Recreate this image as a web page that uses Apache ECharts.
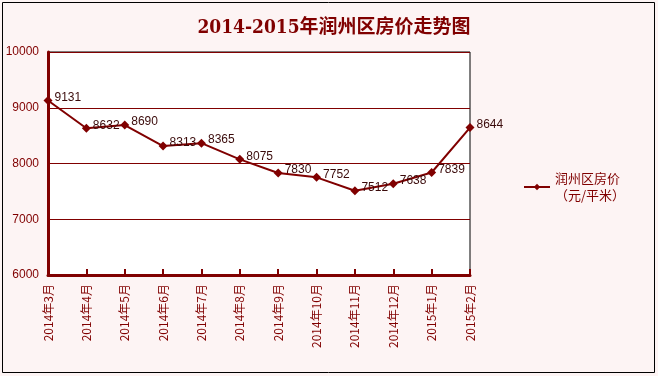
<!DOCTYPE html>
<html>
<head>
<meta charset="utf-8">
<script src="https://cdn.jsdelivr.net/npm/echarts@6/dist/echarts.min.js"></script>
<style>
  html, body { margin: 0; padding: 0; background: #fff; }
  #main { width: 658px; height: 376px; }
</style>
</head>
<body>
<div id="main"></div>
<script>
// 月份
const months = ["2014年3月", "2014年4月", "2014年5月", "2014年6月", "2014年7月", "2014年8月",
  "2014年9月", "2014年10月", "2014年11月", "2014年12月", "2015年1月", "2015年2月"];
// 均价 元/平米
const prices = [9131, 8632, 8690, 8313, 8365, 8075, 7830, 7752, 7512, 7638, 7839, 8644];
const yMin = 6000;
const yMax = 10000;
const yStep = 1000;

const red = "#800000";
let chart = echarts.init(document.getElementById("main"));
let option = {
  backgroundColor: "#fdf4f4",
  animation: false,
  title: {
    text: "2014-2015年润州区房价走势图",
    left: 329,
    top: 14,
    textAlign: "center",
    textStyle: {
      color: red,
      fontSize: 19,
      fontWeight: "bold",
      fontFamily: "DejaVu Serif Condensed, DejaVu Serif, Noto Sans CJK SC"
    }
  },
  graphic: [
    {
      type: "rect",
      shape: { x: 2.5, y: 2.5, width: 652, height: 370 },
      style: { fill: "none", stroke: "#000", lineWidth: 1 },
      z: -1
    }
  ],
  legend: {
    data: ["润州区房价\n（元/平米）"],
    left: 518,
    top: 165,
    itemWidth: 26,
    itemHeight: 8,
    itemGap: 4,
    textStyle: {
      color: red,
      fontSize: 13,
      lineHeight: 17,
      fontFamily: "Noto Sans CJK SC"
    }
  },
  grid: {
    left: 48,
    right: 188,
    top: 52,
    bottom: 101,
    show: true,
    backgroundColor: "#fff",
    borderColor: "#000",
    borderWidth: 1
  },
  xAxis: {
    type: "category",
    boundaryGap: false,
    data: months,
    axisLine: { lineStyle: { color: red, width: 3 } },
    axisTick: { inside: true, length: 6, alignWithLabel: true, lineStyle: { color: red, width: 2 } },
    axisLabel: {
      rotate: 90,
      interval: 0,
      color: red,
      fontSize: 12,
      margin: 9,
      fontFamily: "Noto Sans CJK SC"
    },
    splitLine: { show: false }
  },
  yAxis: {
    type: "value",
    min: yMin,
    max: yMax,
    interval: yStep,
    axisLine: { show: true, lineStyle: { color: red, width: 3 } },
    axisTick: { show: false },
    axisLabel: {
      color: red,
      fontSize: 12,
      margin: 9,
      fontFamily: "Liberation Sans",
      formatter: (v) => String(v)
    },
    splitLine: { show: true, lineStyle: { color: red, width: 1 } }
  },
  series: [
    {
      name: "润州区房价\n（元/平米）",
      type: "line",
      data: prices,
      symbol: "diamond",
      symbolSize: 9,
      color: red,
      lineStyle: { color: red, width: 2 },
      itemStyle: { color: red },
      label: {
        show: true,
        position: "right",
        distance: 2,
        offset: [0, -3],
        color: "#3a0a0a",
        fontSize: 12,
        fontFamily: "Liberation Sans"
      }
    }
  ]
};
chart.setOption(option);
</script>
</body>
</html>
